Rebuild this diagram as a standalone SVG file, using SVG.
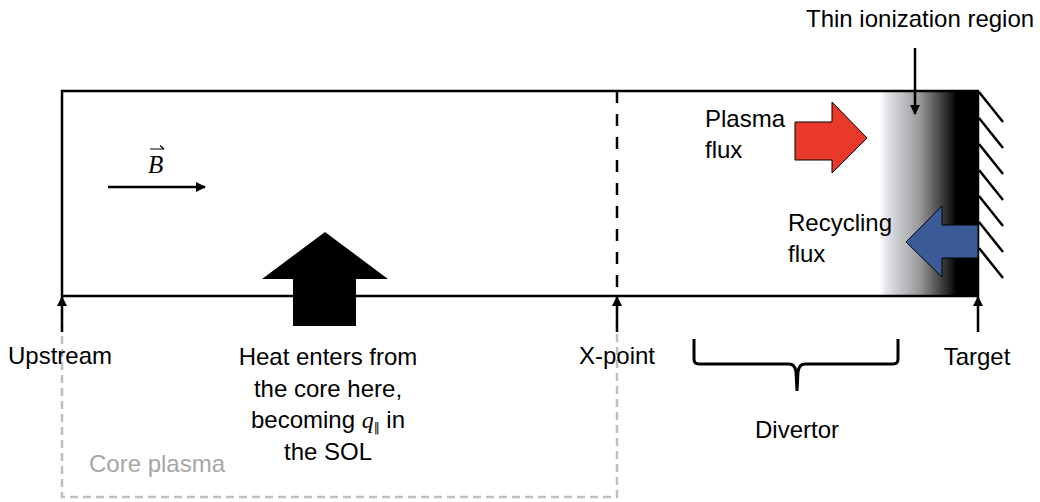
<svg xmlns="http://www.w3.org/2000/svg" width="1040" height="502" viewBox="0 0 1040 502">
<defs>
<style>
.t{font-family:"Liberation Sans",Arial,sans-serif;font-size:24px;fill:#000}
.c{text-anchor:middle}
.ln{stroke:#000;stroke-width:2.5;fill:none}
.core{stroke:#BFBFBF;stroke-width:2.5;fill:none;stroke-dasharray:8 5}
</style>
<marker id="ah" viewBox="0 0 10 10" refX="9" refY="5" markerWidth="10" markerHeight="10" markerUnits="userSpaceOnUse" orient="auto">
<path d="M0,0 L10,5 L0,10 z" fill="#000"/>
</marker>
<linearGradient id="ion" x1="880" y1="0" x2="978" y2="0" gradientUnits="userSpaceOnUse">
<stop offset="0" stop-color="#fff"/>
<stop offset="0.06" stop-color="#E4E6EC"/>
<stop offset="0.4" stop-color="#9a9a9c"/>
<stop offset="0.72" stop-color="#1c1c1c"/>
<stop offset="0.78" stop-color="#000"/>
<stop offset="1" stop-color="#000"/>
</linearGradient>
</defs>
<rect width="1040" height="502" fill="#fff"/>

<g id="core-plasma">
<path class="core" d="M62,297 V497 H617 V297"/>
<text class="t" x="89" y="472" style="fill:#A6A6A6">Core plasma</text>
</g>

<g id="sol">
<rect x="880" y="91" width="98" height="205" fill="url(#ion)"/>
<rect class="ln" x="62" y="91" width="916" height="205"/>
<line class="ln" x1="617" y1="91" x2="617" y2="296" stroke-dasharray="12 11"/>
</g>

<g id="target-wall">
<path class="ln" d="M979,92 l24,30 M979,118 l24,30 M979,144 l24,30 M979,170 l24,30 M979,196 l24,30 M979,222 l24,30 M979,248 l24,30"/>
</g>

<g id="heat-arrow">
<polygon points="325,232 388,279 356,279 356,326 293,326 293,279 262,279" fill="#000"/>
<text class="t c" x="328" y="365">Heat enters from</text>
<text class="t c" x="328" y="397">the core here,</text>
<text class="t c" x="328" y="428">becoming <tspan font-family="'Liberation Serif',serif" font-style="italic">q</tspan><tspan font-family="'DejaVu Sans',sans-serif" font-size="12" dy="4">‖</tspan><tspan dy="-4"> in</tspan></text>
<text class="t c" x="328" y="460">the SOL</text>
</g>

<g id="plasma-flux">
<polygon points="795,122 832,122 832,102 867,138 832,173 832,160 795,160" fill="#E8392A" stroke="#000" stroke-width="1"/>
<text class="t" x="705" y="127">Plasma</text>
<text class="t" x="705" y="158">flux</text>
</g>

<g id="recycling-flux">
<polygon points="978,225 942,225 942,206 906,242 942,277 942,258 978,258" fill="#3A5A98" stroke="#000" stroke-width="1"/>
<text class="t" x="788" y="231">Recycling</text>
<text class="t" x="788" y="262">flux</text>
</g>

<g id="b-field">
<text x="148" y="173" font-family="'Liberation Serif',serif" font-style="italic" font-size="25">B</text>
<path d="M150,149 H164 M160,145.5 L164,149" stroke="#000" stroke-width="1.2" fill="none"/>
</g>

<g id="labels">
<text class="t" x="806" y="27">Thin ionization region</text>
<text class="t c" x="60" y="364">Upstream</text>
<text class="t c" x="617" y="364">X-point</text>
<text class="t c" x="977" y="365">Target</text>
<text class="t c" x="797" y="438">Divertor</text>
</g>

<g id="connectors">
<line class="ln" x1="108" y1="187" x2="205" y2="187" marker-end="url(#ah)"/>
<line class="ln" x1="915" y1="48" x2="915" y2="114" marker-end="url(#ah)"/>
<line class="ln" x1="62" y1="332" x2="62" y2="297" marker-end="url(#ah)"/>
<line class="ln" x1="617" y1="332" x2="617" y2="297" marker-end="url(#ah)"/>
<line class="ln" x1="978" y1="332" x2="978" y2="297" marker-end="url(#ah)"/>
<path d="M694,339 V359 Q694,364 699,364 H789 Q795,364 796,372 L797,391 L798,372 Q799,364 805,364 H893 Q898,364 898,359 V339" stroke="#000" stroke-width="3" fill="none"/>
</g>
</svg>
